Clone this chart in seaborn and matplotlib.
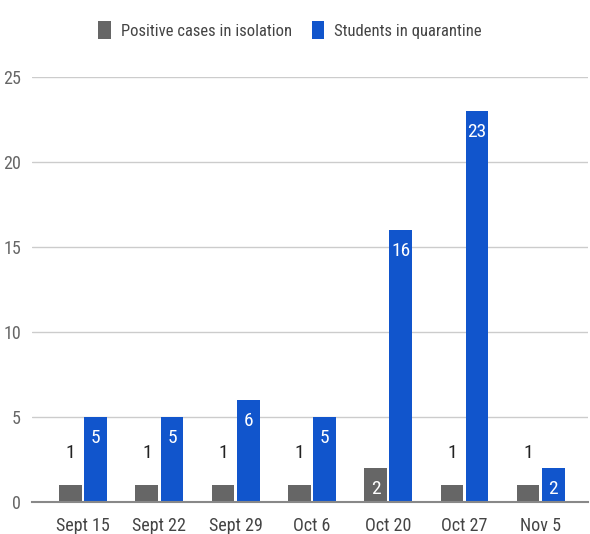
import matplotlib
matplotlib.use("Agg")
import matplotlib.pyplot as plt
from matplotlib import font_manager
from matplotlib.patches import Patch
import seaborn as sns
import pandas as pd

dates = ["Sept 15", "Sept 22", "Sept 29", "Oct 6", "Oct 20", "Oct 27", "Nov 5"]
positive = [1, 1, 1, 1, 2, 1, 1]
quarantine = [5, 5, 6, 5, 16, 23, 2]
series_names = ["Positive cases in isolation", "Students in quarantine"]
colors = ["#666666", "#1155cc"]

sns.set_theme(style="white")
names = {f.name for f in font_manager.fontManager.ttflist}
fam = None
for cand in ["Roboto Condensed", "Liberation Sans Narrow", "DejaVu Sans Condensed"]:
    if cand in names:
        fam = cand
        break
if fam is None:
    fam = "Roboto"
plt.rcParams["font.family"] = [fam, "DejaVu Sans"]

df = pd.DataFrame({
    "date": dates * 2,
    "value": positive + quarantine,
    "series": [series_names[0]] * len(dates) + [series_names[1]] * len(dates),
})

fig = plt.figure(figsize=(5.90, 5.34), dpi=100)
ax = fig.add_axes([32 / 590, 32 / 534, 556 / 590, (502 - 77) / 534])
sns.barplot(data=df, x="date", y="value", hue="series", palette=colors,
            width=0.66, gap=0.1, ax=ax, legend=False, saturation=1,
            linewidth=0, edgecolor="none")

ax.set_ylim(0, 25)
ax.set_xlim(-0.67, 6.62)
ax.set_yticks([0, 5, 10, 15, 20, 25])
ax.set_xlabel("")
ax.set_ylabel("")
ax.grid(axis="y", color="#cccccc", linewidth=1)
ax.set_axisbelow(True)
for s in ["top", "right", "left"]:
    ax.spines[s].set_visible(False)
ax.spines["bottom"].set_color("#888888")
ax.spines["bottom"].set_linewidth(1.5)
ax.tick_params(axis="x", length=0, pad=11, labelsize=13, labelcolor="#444444")
ax.tick_params(axis="y", length=0, pad=8, labelsize=13, labelcolor="#666666")

# value labels
for i, cont in enumerate(ax.containers):
    for rect, v in zip(cont, [positive, quarantine][i]):
        x = rect.get_x() + rect.get_width() / 2
        top = rect.get_height()
        if v >= 2:
            ax.annotate(str(v), (x, top), xytext=(0, -15), textcoords="offset points",
                        ha="center", va="center", color="white", fontsize=14)
        else:
            ax.annotate(str(v), (x, top), xytext=(0, 23), textcoords="offset points",
                        ha="center", va="center", color="#222222", fontsize=14)

handles = [Patch(facecolor=c, edgecolor="none", label=n) for c, n in zip(colors, series_names)]
fig.legend(handles=handles, loc="center", bbox_to_anchor=(290 / 590, 1 - 30 / 534),
           ncol=2, frameon=False, fontsize=12, labelcolor="#444444",
           handlelength=0.75, handleheight=1.3, handletextpad=0.6, columnspacing=1.2)

fig.savefig("out.png", dpi=100)
